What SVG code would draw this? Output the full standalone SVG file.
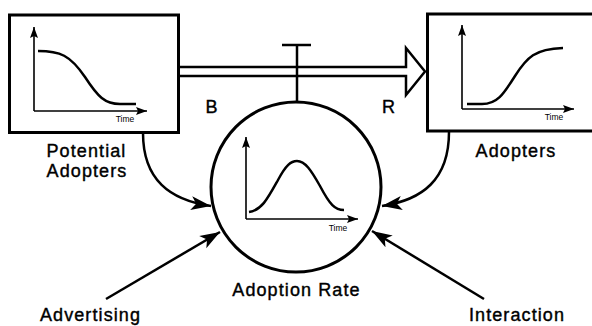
<svg xmlns="http://www.w3.org/2000/svg" width="592" height="326" viewBox="0 0 592 326">
<style>
.box{fill:#fff;stroke:#000;stroke-width:3}
.ln{fill:none;stroke:#000;stroke-width:2.5}
.ax{fill:none;stroke:#000;stroke-width:1.6}
.cv{fill:none;stroke:#000;stroke-width:2.5}
.lbl{font-family:"Liberation Sans",Arial,sans-serif;font-size:18px;letter-spacing:1.1px;fill:#000;stroke:#000;stroke-width:0.4;text-anchor:middle}
.tm{font-family:"Liberation Sans",Arial,sans-serif;font-size:8.5px;fill:#000;text-anchor:middle}
</style>
<defs>
<marker id="arr" markerUnits="userSpaceOnUse" markerWidth="22" markerHeight="16" viewBox="0 -8 22 16" refX="20" refY="0" orient="auto">
<path d="M0,-7 L20,0 L0,7 L5,0 Z" fill="#000"/>
</marker>
<marker id="ax" markerUnits="userSpaceOnUse" markerWidth="12" markerHeight="10" viewBox="0 -5 12 10" refX="11" refY="0" orient="auto">
<path d="M0,-4 L11,0 L0,4 L2,0 Z" fill="#000"/>
</marker>
</defs>

<g id="connectors">
<path class="ln" d="M179,67 L406,67 L406,48 L425,71.5 L406,95 L406,76 L179,76"/>
<line class="ln" x1="297" y1="101" x2="297" y2="45"/>
<line class="ln" x1="282" y1="45" x2="311" y2="45"/>
<path class="ln" d="M143,133 C143,180 170,200 211,206" marker-end="url(#arr)"/>
<path class="ln" d="M449,132 C449,180 422,200 382,206" marker-end="url(#arr)"/>
<line class="ln" x1="106" y1="299" x2="220" y2="232" marker-end="url(#arr)"/>
<line class="ln" x1="484" y1="299" x2="372" y2="231" marker-end="url(#arr)"/>
</g>

<g id="potential-adopters">
<rect class="box" x="9.5" y="15" width="169" height="117.5"/>
<line class="ax" x1="34" y1="111" x2="34" y2="27" marker-end="url(#ax)"/>
<line class="ax" x1="34" y1="111" x2="147" y2="111" marker-end="url(#ax)"/>
<path class="cv" d="M38,51 C60,51 70,55 85,77 C98,97 105,104 120,104 L136,104"/>
<text class="tm" x="125" y="121.5">Time</text>
<text class="lbl" x="86.5" y="157">Potential</text>
<text class="lbl" x="87" y="177">Adopters</text>
</g>

<g id="adopters">
<rect class="box" x="427.5" y="14" width="200" height="117"/>
<line class="ax" x1="462" y1="109" x2="462" y2="25" marker-end="url(#ax)"/>
<line class="ax" x1="462" y1="109" x2="574" y2="109" marker-end="url(#ax)"/>
<path class="cv" d="M467,104 L482,104 C497,104 503,95 515,76 C527,57 535,49 563,48"/>
<text class="tm" x="554" y="120">Time</text>
<text class="lbl" x="516" y="157">Adopters</text>
</g>

<g id="adoption-rate">
<circle class="box" cx="296" cy="187" r="85"/>
<line class="ax" x1="246" y1="219" x2="246" y2="137" marker-end="url(#ax)"/>
<line class="ax" x1="246" y1="219" x2="358" y2="219" marker-end="url(#ax)"/>
<path class="cv" d="M249,212 C262,210 268,198 278,180 C286,165 291,161 297,161 C305,161 311,170 320,186 C330,205 335,210 344,210"/>
<text class="tm" x="338" y="231">Time</text>
<text class="lbl" x="296.5" y="296">Adoption Rate</text>
</g>

<g id="loop-labels">
<text class="lbl" x="212" y="113">B</text>
<text class="lbl" x="389" y="113">R</text>
</g>

<g id="advertising">
<text class="lbl" x="90.5" y="321">Advertising</text>
</g>
<g id="interaction">
<text class="lbl" x="517" y="321">Interaction</text>
</g>
</svg>
